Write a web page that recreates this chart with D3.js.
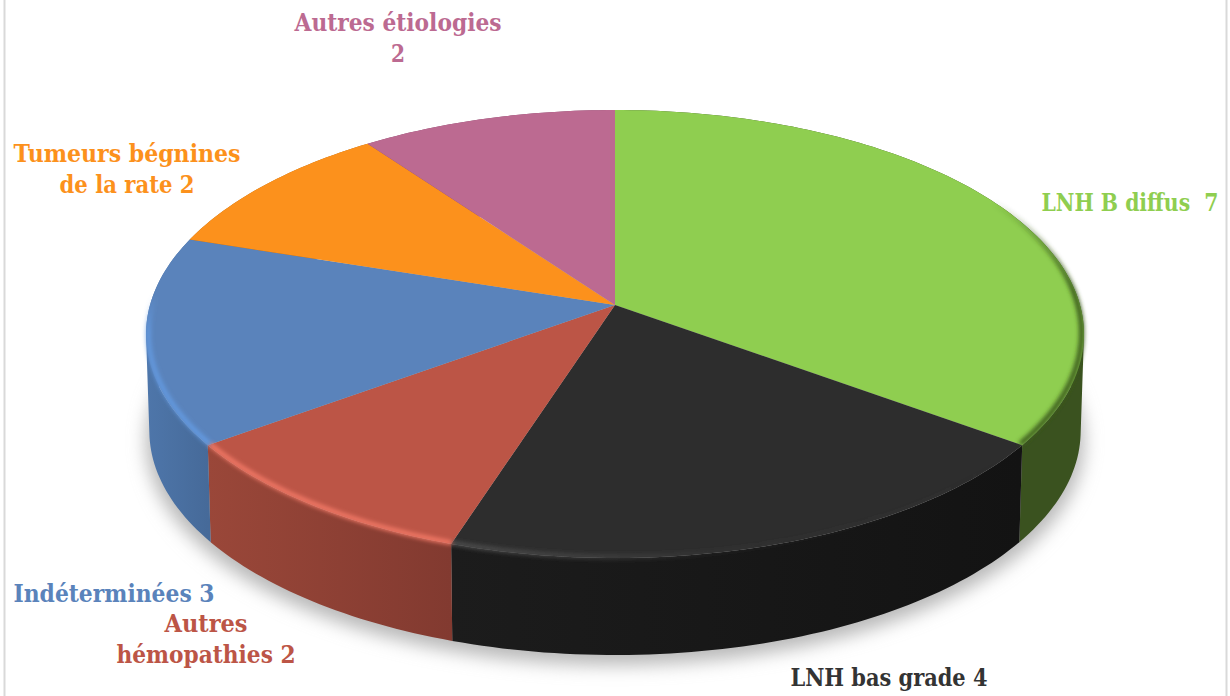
<!DOCTYPE html>
<html><head><meta charset="utf-8">
<script src="https://cdn.jsdelivr.net/npm/d3@7"></script>
<style>html,body{margin:0;padding:0;background:#fff}svg{display:block}</style>
</head><body><svg id="c" width="1230" height="696"></svg>
<script>
const categories = ["LNH B diffus","LNH bas grade","Autres hémopathies","Indéterminées","Tumeurs bégnines de la rate","Autres étiologies"];
const values = [7,4,2,3,2,2];
const topColors = ["#8fce50","#2d2d2d","#bc5546","#5a83bb","#fc911c","#bc6a91"];
const sideStart = ["#3a521f","#1c1c1c","#9a4739","#4e76aa","#b06510","#84496a"];
const sideEnd = ["#3a521f","#131313","#823a30","#466a99","#b06510","#84496a"];
const rimColors = ["#3a5a1c","#505050","#f47a68","#649cE4","#fc911c","#bc6a91"];
const labelLines = [["LNH B diffus  7"],["LNH bas grade 4"],["Autres","hémopathies 2"],["Indéterminées 3"],["Tumeurs bégnines","de la rate 2"],["Autres étiologies","2"]];
const labelX = [1130,889,206,114,127,398];
const labelY = [211,686,632,602,162,31];
const labelWidths = [[177],[197],[83,179],[201],[227,135],[207,14]];

const svg = d3.select("#c");
const defs = svg.append("defs");
[["shadow",9],["soft",2]].forEach(([id,s])=>{
  defs.append("filter").attr("id",id).attr("x","-20%").attr("y","-20%").attr("width","140%").attr("height","140%")
    .append("feGaussianBlur").attr("stdDeviation",s);
});
const K=-0.1295, A=465, B=220.25, CX=615, CY=305, DEPTH=97, SC=0.993;
const project=(a,dy=0,sc=1)=>{const u=Math.sin(a),v=-Math.cos(a),d=1+K*v;return [CX+sc*A*u/d, CY+B*v/d+dy];};
const arcs=d3.pie().sort(null).value(d=>d)(values);
const sample=(s,e)=>{const n=Math.max(4,Math.ceil((e-s)/0.02));return d3.range(n+1).map(i=>s+(e-s)*i/n);};
const line=d3.line();

// frame
[4.5,1226.5].forEach(x=>svg.append("line").attr("x1",x).attr("x2",x).attr("y1",0).attr("y2",696).attr("stroke","#d9d9d9").attr("stroke-width",2));

// shadow
svg.append("path").attr("d",line(sample(0,2*Math.PI).map(a=>project(a,DEPTH+10,1.0)))+"Z").attr("fill","#b8b8b8").attr("filter","url(#shadow)");

// side walls: a union of small quads, so the vertical silhouette is covered
arcs.forEach((d,i)=>{
  const as=sample(d.startAngle,d.endAngle);
  const t=as.map(a=>project(a)), b=as.map(a=>project(a,DEPTH,SC));
  let path="";
  for(let j=0;j<as.length-1;j++){
    let q=[t[j],t[j+1],b[j+1],b[j]];
    if(d3.polygonArea(q)<0) q=q.reverse();
    path+=line(q)+"Z";
  }
  const g=defs.append("linearGradient").attr("id","side"+i).attr("gradientUnits","userSpaceOnUse")
    .attr("x1",d3.max(t,p=>p[0])).attr("x2",d3.min(t,p=>p[0])).attr("y1",0).attr("y2",0);
  g.append("stop").attr("offset",0).attr("stop-color",sideEnd[i]);
  g.append("stop").attr("offset",1).attr("stop-color",sideStart[i]);
  svg.append("path").attr("class","side").attr("d",path).attr("fill",`url(#side${i})`).attr("fill-rule","nonzero");
});

// top faces
arcs.forEach((d,i)=>{
  const pts=[[CX,CY]].concat(sample(d.startAngle,d.endAngle).map(a=>project(a)));
  svg.append("path").attr("d",line(pts)+"Z").attr("fill",topColors[i]);
});

// bevel highlights on the rim
arcs.forEach((d,i)=>{
  if(i>=4) return;
  const s=i===0?Math.max(d.startAngle,1.05):d.startAngle;
  const e=i===3?Math.min(d.endAngle,4.75):d.endAngle;
  const pts=sample(s,e).map(a=>project(a,-1,0.995));
  const g=defs.append("linearGradient").attr("id","rim"+i).attr("gradientUnits","userSpaceOnUse")
    .attr("x1",pts[0][0]).attr("x2",pts[pts.length-1][0]).attr("y1",pts[0][1]).attr("y2",pts[pts.length-1][1]);
  const stops = i===1 ? [[0,0],[0.55,0.15],[1,1]] : i===0 ? [[0,0],[0.4,1],[1,1]] : i===3 ? [[0,1],[0.8,.9],[1,0]] : [[0,1],[1,1]];
  stops.forEach(([o,op])=>g.append("stop").attr("offset",o).attr("stop-color",rimColors[i]).attr("stop-opacity",op));
  svg.append("path").attr("d",line(pts)).attr("fill","none").attr("stroke",`url(#rim${i})`)
    .attr("stroke-width",i===0?5:4.5).attr("filter","url(#soft)");
});

// labels
labelLines.forEach((ls,i)=>{
  ls.forEach((t,j)=>{
    svg.append("text").attr("x",labelX[i]).attr("y",labelY[i]+j*30.5)
      .attr("text-anchor","middle").attr("font-family","'DejaVu Serif Condensed','DejaVu Serif',serif").attr("font-weight","bold")
      .attr("font-size",24).attr("fill",i===1?"#333333":topColors[i]).style("white-space","pre")
      .attr("textLength",labelWidths[i][j]).attr("lengthAdjust","spacingAndGlyphs").text(t);
  });
});
</script></body></html>
